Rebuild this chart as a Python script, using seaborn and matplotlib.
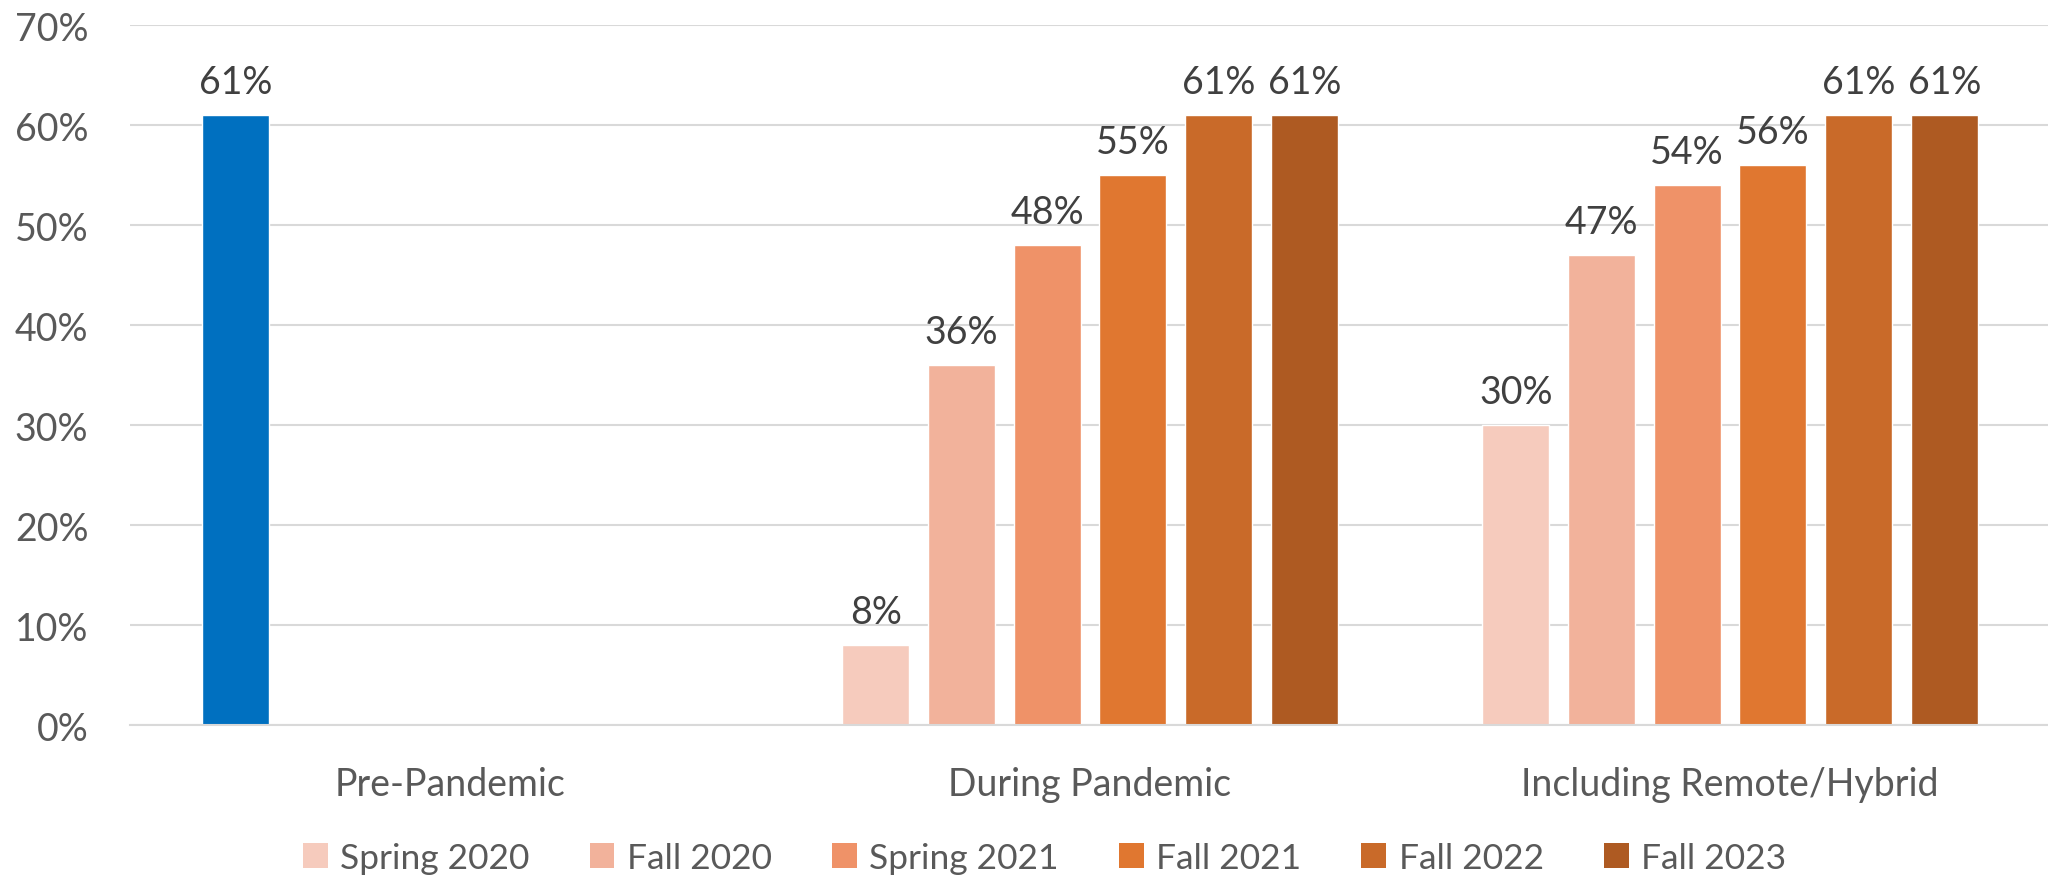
import matplotlib
matplotlib.use("Agg")
import matplotlib.pyplot as plt
from matplotlib.patches import Patch
from matplotlib.ticker import PercentFormatter
import seaborn as sns
import pandas as pd
import numpy as np

groups = ["Pre-Pandemic", "During Pandemic", "Including Remote/Hybrid"]
seasons = ["Spring 2020", "Fall 2020", "Spring 2021", "Fall 2021", "Fall 2022", "Fall 2023"]
spring_2020 = [61, 8, 30]
fall_2020 = [np.nan, 36, 47]
spring_2021 = [np.nan, 48, 54]
fall_2021 = [np.nan, 55, 56]
fall_2022 = [np.nan, 61, 61]
fall_2023 = [np.nan, 61, 61]
season_colors = ["#F6CBBD", "#F2B29B", "#EF9268", "#E07730", "#C96A29", "#AE5A22"]
pre_color = "#0070C0"

series = [spring_2020, fall_2020, spring_2021, fall_2021, fall_2022, fall_2023]
rows = []
for s, vals in zip(seasons, series):
    for g, v in zip(groups, vals):
        rows.append({"group": g, "season": s, "value": v})
df = pd.DataFrame(rows)

sns.set_theme(style="white")
plt.rcParams["font.family"] = ["Lato", "DejaVu Sans"]

fig = plt.figure(figsize=(20.48, 8.78), dpi=100)
ax = fig.add_axes([0.0635, 0.1728, 0.9375, 0.7973])

sns.barplot(data=df, x="group", y="value", hue="season", order=groups,
            hue_order=seasons, palette=season_colors, width=0.8034, gap=0.218,
            legend=False, ax=ax, saturation=1, errorbar=None)

# the pre-pandemic bar is shown in blue
ax.containers[0].patches[0].set_facecolor(pre_color)

for cont in ax.containers:
    labels = [("" if (np.isnan(p.get_height()) or p.get_height() == 0)
               else f"{p.get_height():.0f}%") for p in cont.patches]
    ax.bar_label(cont, labels=labels, padding=11, fontsize=27, color="#404040")

ax.set_ylim(0, 70)
ax.set_xlim(-0.5, 2.5)
ax.set_yticks(range(0, 71, 10))
ax.yaxis.set_major_formatter(PercentFormatter(decimals=0))
ax.grid(axis="y", color="#D9D9D9", linewidth=1.5)
ax.set_axisbelow(True)
for side in ["top", "right", "left"]:
    ax.spines[side].set_visible(False)
ax.spines["bottom"].set_color("#D9D9D9")
ax.spines["bottom"].set_linewidth(1.5)
ax.tick_params(axis="y", length=0, pad=30, labelsize=27, labelcolor="#595959")
ax.tick_params(axis="x", length=0, pad=29, labelsize=27, labelcolor="#595959")
ax.set_xlabel("")
ax.set_ylabel("")

handles = [Patch(facecolor=c, edgecolor="none", label=s) for s, c in zip(seasons, season_colors)]
fig.legend(handles=handles, loc="center", bbox_to_anchor=(0.510, 0.022), ncol=6,
           frameon=False, fontsize=25.5, labelcolor="#595959", handlelength=0.7,
           handleheight=0.7, handletextpad=0.35, columnspacing=1.7)

fig.savefig("out.png", dpi=100)
